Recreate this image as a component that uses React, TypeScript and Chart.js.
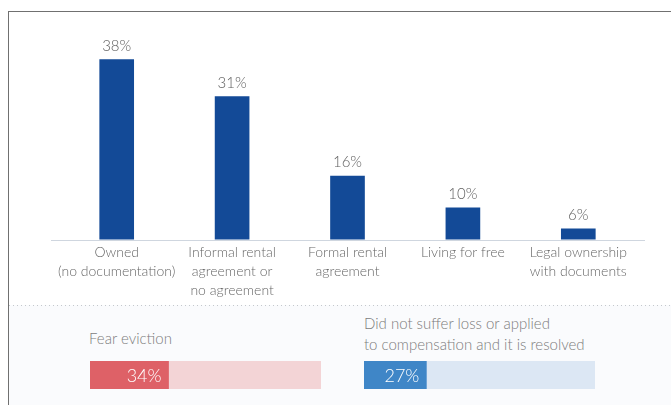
import React, { useEffect, useRef } from 'react';
import { Chart, registerables } from 'chart.js';

Chart.register(...registerables);

const categories: string[][] = [
  ['Owned', '(no documentation)'],
  ['Informal rental', 'agreement or', 'no agreement'],
  ['Formal rental', 'agreement'],
  ['Living for free'],
  ['Legal ownership', 'with documents'],
];
const shares: number[] = [38, 31, 16, 10, 6];

const fearLabel: string[] = ['Fear eviction'];
const fearValue = 34;
const resolvedLabel: string[] = ['Did not suffer loss or applied', 'to compensation and it is resolved'];
const resolvedValue = 27;

const FONT = "Lato, 'Open Sans', sans-serif";
const TEXT = '#686868';

function MainChart() {
  const ref = useRef<HTMLCanvasElement>(null);
  useEffect(() => {
    if (!ref.current) return;
    const valueLabels = {
      id: 'valueLabels',
      afterDatasetsDraw(chart: any) {
        const ctx = chart.ctx;
        const meta = chart.getDatasetMeta(0);
        ctx.save();
        ctx.font = `300 15px ${FONT}`;
        ctx.fillStyle = '#5f5f5f';
        ctx.textAlign = 'center';
        ctx.textBaseline = 'alphabetic';
        meta.data.forEach((el: any, i: number) => {
          ctx.fillText(shares[i] + '%', el.x, el.y - 9);
        });
        ctx.restore();
      },
    };
    const baseline = {
      id: 'baseline',
      afterDatasetsDraw(chart: any) {
        const { ctx, chartArea } = chart;
        const y = Math.round(chartArea.bottom) + 0.5;
        ctx.save();
        ctx.strokeStyle = '#cfd6df';
        ctx.lineWidth = 1;
        ctx.beginPath();
        ctx.moveTo(chartArea.left - 8, y);
        ctx.lineTo(chartArea.right + 9, y);
        ctx.stroke();
        ctx.restore();
      },
    };
    const chart = new Chart(ref.current, {
      type: 'bar',
      data: {
        labels: categories,
        datasets: [
          {
            data: shares,
            backgroundColor: '#134a97',
            borderWidth: 0,
            barThickness: 34,
          },
        ],
      },
      options: {
        responsive: false,
        animation: false,
        devicePixelRatio: 1,
        layout: { padding: { left: 59, right: 35, top: 37, bottom: 0 } },
        plugins: { legend: { display: false }, tooltip: { enabled: false } },
        scales: {
          y: { display: false, min: 4, max: 40 },
          x: {
            grid: { display: false },
            border: { display: false },
            afterFit: (scale: any) => {
              scale.height = 72.5;
            },
            ticks: {
              padding: -4,
              autoSkip: false,
              maxRotation: 0,
              color: TEXT,
              font: { family: FONT, size: 14, weight: '300', lineHeight: 1.35 },
            },
          },
        },
      },
      plugins: [baseline, valueLabels],
    });
    return () => chart.destroy();
  }, []);
  return (
    <canvas
      ref={ref}
      width={671}
      height={300}
      style={{ position: 'absolute', left: 0, top: 12, width: 671, height: 300 }}
    />
  );
}

function Progress(props: { value: number; color: string; track: string; left: number; top: number }) {
  const ref = useRef<HTMLCanvasElement>(null);
  const { value, color, track, left, top } = props;
  useEffect(() => {
    if (!ref.current) return;
    const trackPlugin = {
      id: 'track',
      beforeDatasetsDraw(chart: any) {
        const { ctx, chartArea } = chart;
        ctx.save();
        ctx.fillStyle = track;
        ctx.fillRect(chartArea.left, chartArea.top, chartArea.right - chartArea.left, chartArea.bottom - chartArea.top);
        ctx.restore();
      },
    };
    const labelPlugin = {
      id: 'pctLabel',
      afterDatasetsDraw(chart: any) {
        const ctx = chart.ctx;
        const el = chart.getDatasetMeta(0).data[0];
        ctx.save();
        ctx.font = `300 18px ${FONT}`;
        ctx.fillStyle = '#ffffff';
        ctx.textAlign = 'right';
        ctx.textBaseline = 'middle';
        ctx.fillText(value + '%', el.x - 7, el.y + 1);
        ctx.restore();
      },
    };
    const chart = new Chart(ref.current, {
      type: 'bar',
      data: {
        labels: [''],
        datasets: [
          {
            data: [value],
            backgroundColor: color,
            borderWidth: 0,
            barPercentage: 1,
            categoryPercentage: 1,
          },
        ],
      },
      options: {
        indexAxis: 'y',
        responsive: false,
        animation: false,
        devicePixelRatio: 1,
        layout: { padding: 0 },
        plugins: { legend: { display: false }, tooltip: { enabled: false } },
        scales: {
          x: { display: false, min: 0, max: 100 },
          y: { display: false },
        },
      },
      plugins: [trackPlugin, labelPlugin],
    });
    return () => chart.destroy();
  }, [value, color, track]);
  return (
    <canvas
      ref={ref}
      width={231}
      height={28}
      style={{ position: 'absolute', left, top, width: 231, height: 28 }}
    />
  );
}

export default function App() {
  const textStyle: React.CSSProperties = {
    position: 'absolute',
    fontFamily: FONT,
    fontWeight: 300,
    fontSize: 15,
    lineHeight: '21px',
    color: '#7c7c7c',
    whiteSpace: 'nowrap',
  };
  return (
    <div style={{ position: 'absolute', left: 0, top: 0, width: 671, height: 405, background: '#ffffff', overflow: 'hidden' }}>
      <div style={{ position: 'absolute', left: 8, top: 11, width: 663, height: 1, background: '#707070' }} />
      <div style={{ position: 'absolute', left: 8, top: 11, width: 1, height: 394, background: '#707070' }} />
      <div
        style={{
          position: 'absolute',
          left: 9,
          top: 305,
          width: 662,
          height: 100,
          background: '#fafbfd',
        }}
      />
      <div
        style={{
          position: 'absolute',
          left: 9,
          top: 305,
          width: 662,
          height: 1,
          backgroundImage: 'repeating-linear-gradient(to right, #c4c8cc 0px, #c4c8cc 1px, transparent 1px, transparent 4px)',
        }}
      />
      <MainChart />
      <div style={{ ...textStyle, left: 89, top: 328 }}>
        {fearLabel.map((l, i) => (
          <div key={i}>{l}</div>
        ))}
      </div>
      <div style={{ ...textStyle, left: 364, top: 313 }}>
        {resolvedLabel.map((l, i) => (
          <div key={i}>{l}</div>
        ))}
      </div>
      <Progress value={fearValue} color="#de6167" track="#f3d4d6" left={90} top={361} />
      <Progress value={resolvedValue} color="#3f86c7" track="#dce7f4" left={364} top={361} />
    </div>
  );
}
